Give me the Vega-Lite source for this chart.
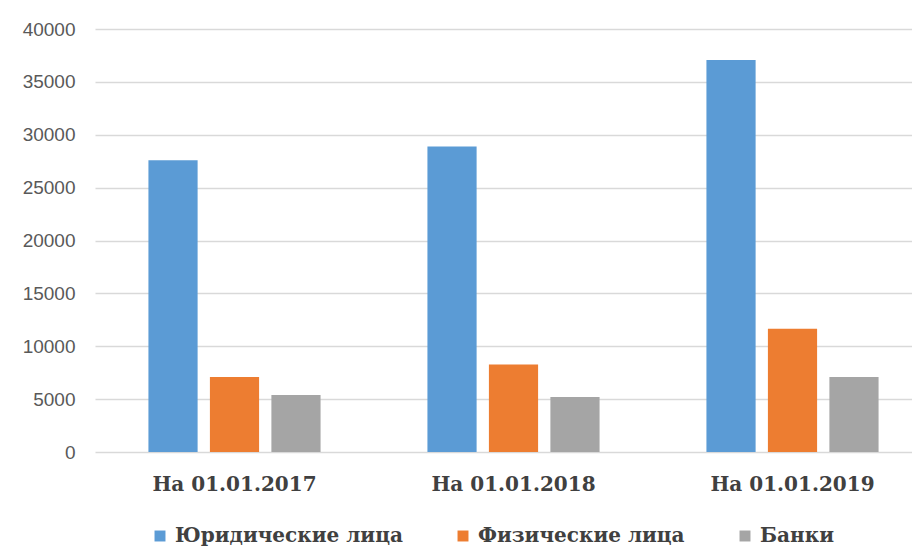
{
  "$schema": "https://vega.github.io/schema/vega-lite/v6.json",
  "autosize": {"type": "none"},
  "padding": {"left": 95, "top": 29, "right": 0, "bottom": 97},
  "width": 837,
  "height": 423,
  "background": "white",
  "data": {"values": [
    {"date": "На 01.01.2017", "type": "Юридические лица", "value": 27600},
    {"date": "На 01.01.2017", "type": "Физические лица", "value": 7100},
    {"date": "На 01.01.2017", "type": "Банки", "value": 5400},
    {"date": "На 01.01.2018", "type": "Юридические лица", "value": 28900},
    {"date": "На 01.01.2018", "type": "Физические лица", "value": 8270},
    {"date": "На 01.01.2018", "type": "Банки", "value": 5200},
    {"date": "На 01.01.2019", "type": "Юридические лица", "value": 37070},
    {"date": "На 01.01.2019", "type": "Физические лица", "value": 11650},
    {"date": "На 01.01.2019", "type": "Банки", "value": 7100}
  ]},
  "mark": {"type": "bar"},
  "encoding": {
    "x": {
      "field": "date", "type": "nominal", "title": null,
      "scale": {"paddingInner": 0.383, "paddingOuter": 0.1915},
      "axis": {
        "labelAngle": 0, "ticks": false, "domain": false,
        "labelFont": "DejaVu Serif", "labelFontWeight": "bold", "labelFontSize": 20,
        "labelColor": "#404040", "labelPadding": 22
      }
    },
    "xOffset": {
      "field": "type", "type": "nominal",
      "sort": ["Юридические лица", "Физические лица", "Банки"],
      "scale": {"paddingInner": 0.2, "paddingOuter": 0}
    },
    "y": {
      "field": "value", "type": "quantitative", "title": null,
      "scale": {"domain": [0, 40000], "nice": false},
      "axis": {
        "values": [0, 5000, 10000, 15000, 20000, 25000, 30000, 35000, 40000],
        "format": "d",
        "ticks": false, "domain": false,
        "grid": true, "gridColor": "#D9D9D9", "gridWidth": 1.5,
        "labelFont": "Liberation Sans", "labelFontSize": 19,
        "labelColor": "#595959", "labelPadding": 20
      }
    },
    "color": {
      "field": "type", "type": "nominal",
      "sort": ["Юридические лица", "Физические лица", "Банки"],
      "scale": {
        "domain": ["Юридические лица", "Физические лица", "Банки"],
        "range": ["#5B9BD5", "#ED7D31", "#A5A5A5"]
      },
      "legend": {
        "title": null, "orient": "none", "direction": "horizontal",
        "legendX": 55, "legendY": 497,
        "symbolType": "square", "symbolSize": 120, "symbolStrokeWidth": 0,
        "labelFont": "DejaVu Serif", "labelFontWeight": "bold", "labelFontSize": 20,
        "labelColor": "#404040", "columnPadding": 50, "labelOffset": 5,
        "labelLimit": 400
      }
    }
  },
  "config": {"view": {"stroke": null}}
}
